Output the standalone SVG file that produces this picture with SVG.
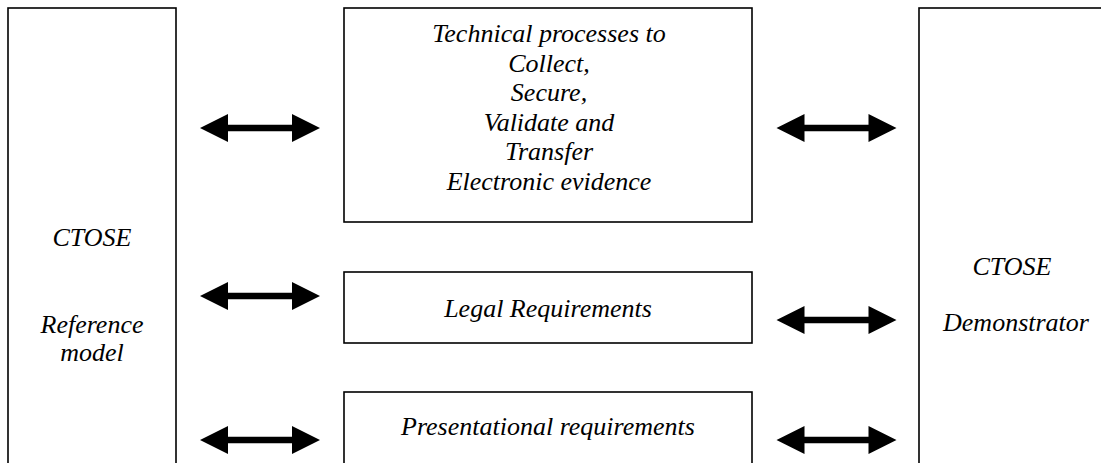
<svg xmlns="http://www.w3.org/2000/svg" xmlns:xlink="http://www.w3.org/1999/xlink" width="1101" height="463" viewBox="0 0 1101 463">
<style>
.box{fill:#fff;stroke:#000;stroke-width:1.6}
.arr{fill:#000}
</style>
<defs>
<polygon id="dbl" points="-60,0 -32,-14 -32,-3.2 32,-3.2 32,-14 60,0 32,14 32,3.2 -32,3.2 -32,14"/>
</defs>
<rect width="1101" height="463" fill="#fff"/>
<g font-family="'Liberation Serif', 'DejaVu Serif', serif" font-style="italic" font-size="26" text-anchor="middle" fill="#000">
<g id="ref-model">
<rect class="box" x="8" y="8" width="168" height="480"/>
<text x="92" y="246">CTOSE</text>
<text x="92" y="333">Reference</text>
<text x="92" y="361">model</text>
</g>
<g id="technical">
<rect class="box" x="344" y="8" width="408" height="214"/>
<text x="549" y="42">Technical processes to</text>
<text x="549" y="71.5">Collect,</text>
<text x="549" y="101">Secure,</text>
<text x="549" y="130.5">Validate and</text>
<text x="549" y="160">Transfer</text>
<text x="549" y="189.5">Electronic evidence</text>
</g>
<g id="legal">
<rect class="box" x="344" y="272" width="408" height="71"/>
<text x="548" y="317">Legal Requirements</text>
</g>
<g id="presentational">
<rect class="box" x="344" y="392" width="408" height="100"/>
<text x="548" y="435">Presentational requirements</text>
</g>
<g id="demonstrator">
<rect class="box" x="919" y="8" width="200" height="480"/>
<text x="1012" y="275">CTOSE</text>
<text x="1016" y="331">Demonstrator</text>
</g>
</g>
<g id="connectors" class="arr">
<use xlink:href="#dbl" transform="translate(260,128)"/>
<use xlink:href="#dbl" transform="translate(836.5,128)"/>
<use xlink:href="#dbl" transform="translate(260,296)"/>
<use xlink:href="#dbl" transform="translate(836.5,320)"/>
<use xlink:href="#dbl" transform="translate(260,440)"/>
<use xlink:href="#dbl" transform="translate(836.5,440)"/>
</g>
</svg>
